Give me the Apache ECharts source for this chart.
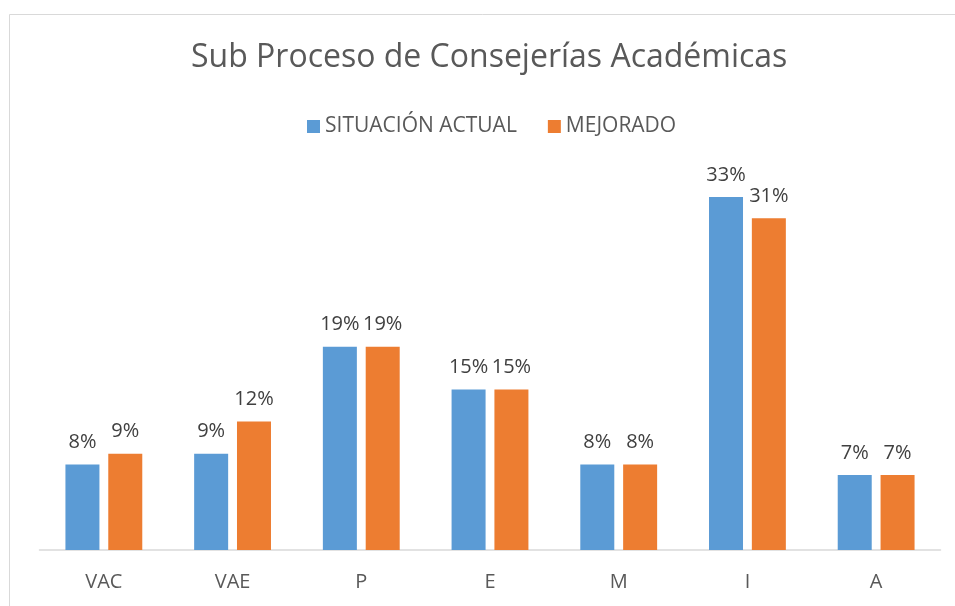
<!DOCTYPE html>
<html>
<head>
<meta charset="utf-8">
<script src="https://cdn.jsdelivr.net/npm/echarts@6/dist/echarts.min.js"></script>
<style>html,body{margin:0;padding:0;background:#fff}#c{width:955px;height:606px}</style>
</head>
<body>
<div id="c"></div>
<script>
const categories = ['VAC', 'VAE', 'P', 'E', 'M', 'I', 'A'];
const situacionActual = [8, 9, 19, 15, 8, 33, 7];
const mejorado = [9, 12, 19, 15, 8, 31, 7];
const seriesNames = ['SITUACIÓN ACTUAL', 'MEJORADO'];
const titleText = 'Sub Proceso de Consejerías Académicas';

const FONT = 'Open Sans';
const chart = echarts.init(document.getElementById('c'), null, {renderer: 'canvas'});
const labelCfg = {
  show: true, position: 'top', distance: 12,
  formatter: p => p.value + '%',
  color: '#404040', fontFamily: FONT, fontSize: 20
};
chart.setOption({
  animation: false,
  backgroundColor: '#fff',
  graphic: [{
    type: 'rect', shape: {x: 9.5, y: 14.5, width: 1000, height: 700},
    style: {fill: 'none', stroke: '#d9d9d9', lineWidth: 1}, silent: true, z: -1
  }],
  title: {
    text: titleText, left: 186, top: 37,
    textStyle: {color: '#595959', fontFamily: FONT, fontSize: 32, fontWeight: 'normal'}
  },
  legend: {
    data: seriesNames, top: 111, left: 302, itemWidth: 13, itemHeight: 13, itemGap: 31,
    icon: 'rect',
    textStyle: {color: '#595959', fontFamily: FONT, fontSize: 21}
  },
  grid: {left: 39.5, right: 14.5, top: 122, bottom: 56, containLabel: false},
  xAxis: {
    type: 'category', data: categories,
    axisLine: {lineStyle: {color: '#d9d9d9', width: 1.5}},
    axisTick: {show: false},
    axisLabel: {color: '#595959', fontFamily: FONT, fontSize: 20, margin: 22}
  },
  yAxis: {
    type: 'value', min: 0, max: 40, show: false, splitLine: {show: false}
  },
  series: [
    {name: seriesNames[0], type: 'bar', data: situacionActual, barWidth: 34, barGap: '26%',
     itemStyle: {color: '#5B9BD5'}, label: labelCfg},
    {name: seriesNames[1], type: 'bar', data: mejorado, barWidth: 34, barGap: '26%',
     itemStyle: {color: '#ED7D31'}, label: labelCfg}
  ]
});
</script>
</body>
</html>
